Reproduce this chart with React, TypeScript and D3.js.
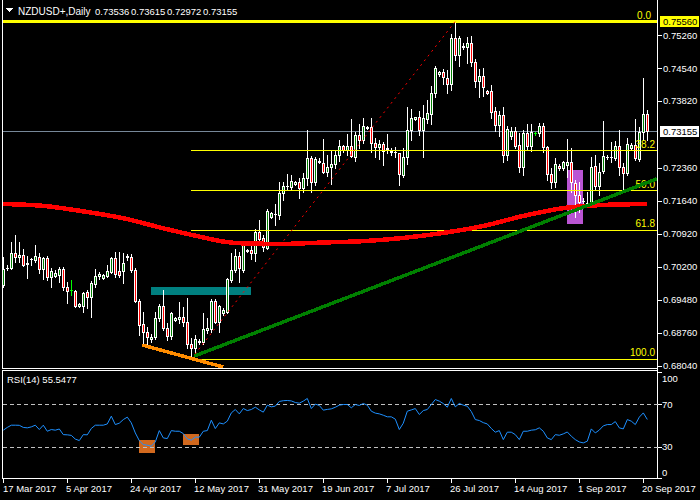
import React from 'react';
import * as d3 from 'd3';

// NZDUSD daily candles, one entry per bar (17 Mar 2017 .. 21 Sep 2017)
const opens = [
  0.6980, 0.7017, 0.7017, 0.7050, 0.7041, 0.7046, 0.7028, 0.7037, 0.7035, 0.7041,
  0.7015, 0.7039, 0.6998, 0.7000, 0.7002, 0.7015, 0.6976, 0.6969, 0.6967, 0.6934,
  0.6934, 0.6965, 0.6954, 0.6982, 0.7000, 0.6996, 0.7000, 0.7009, 0.7039, 0.7011,
  0.7011, 0.7041, 0.7041, 0.7013, 0.6945, 0.6895, 0.6878, 0.6862, 0.6867, 0.6908,
  0.6934, 0.6886, 0.6869, 0.6904, 0.6906, 0.6910, 0.6899, 0.6852, 0.6843, 0.6856,
  0.6856, 0.6882, 0.6884, 0.6945, 0.6899, 0.6919, 0.6921, 0.6991, 0.7013, 0.7044,
  0.7013, 0.7054, 0.7057, 0.7050, 0.7096, 0.7083, 0.7061, 0.7129, 0.7135, 0.7133,
  0.7181, 0.7196, 0.7194, 0.7201, 0.7205, 0.7192, 0.7214, 0.7258, 0.7205, 0.7249,
  0.7247, 0.7227, 0.7238, 0.7245, 0.7264, 0.7284, 0.7275, 0.7284, 0.7260, 0.7308,
  0.7297, 0.7323, 0.7325, 0.7290, 0.7282, 0.7288, 0.7277, 0.7271, 0.7270, 0.7269,
  0.7220, 0.7260, 0.7319, 0.7343, 0.7347, 0.7319, 0.7343, 0.7354, 0.7399, 0.7441,
  0.7445, 0.7432, 0.7419, 0.7520, 0.7482, 0.7500, 0.7500, 0.7509, 0.7467, 0.7426,
  0.7437, 0.7404, 0.7404, 0.7360, 0.7330, 0.7351, 0.7264, 0.7306, 0.7317, 0.7286,
  0.7238, 0.7312, 0.7284, 0.7312, 0.7312, 0.7327, 0.7282, 0.7223, 0.7205, 0.7240,
  0.7236, 0.7242, 0.7249, 0.7203, 0.7177, 0.7164, 0.7157, 0.7162, 0.7240, 0.7196,
  0.7229, 0.7259, 0.7259, 0.7258, 0.7284, 0.7238, 0.7225, 0.7280, 0.7286, 0.7255,
  0.7314, 0.73536,
];
const highs = [
  0.7042, 0.7024, 0.7074, 0.7089, 0.7074, 0.7059, 0.7044, 0.7039, 0.7068, 0.7050,
  0.7041, 0.7044, 0.7017, 0.7013, 0.7020, 0.7020, 0.6987, 0.6991, 0.6969, 0.6941,
  0.6965, 0.6969, 0.6989, 0.7015, 0.7009, 0.7004, 0.7024, 0.7041, 0.7052, 0.7052,
  0.7050, 0.7048, 0.7048, 0.7017, 0.6950, 0.6921, 0.6889, 0.6873, 0.6921, 0.6939,
  0.6969, 0.6897, 0.6921, 0.6910, 0.6943, 0.6932, 0.6952, 0.6864, 0.6871, 0.6862,
  0.6919, 0.6908, 0.6950, 0.6950, 0.6937, 0.6930, 0.6996, 0.7050, 0.7059, 0.7052,
  0.7076, 0.7059, 0.7072, 0.7102, 0.7122, 0.7089, 0.7146, 0.7140, 0.7157, 0.7205,
  0.7205, 0.7223, 0.7220, 0.7207, 0.7214, 0.7225, 0.7319, 0.7262, 0.7260, 0.7257,
  0.7299, 0.7264, 0.7275, 0.7273, 0.7297, 0.7286, 0.7310, 0.7343, 0.7314, 0.7332,
  0.7345, 0.7327, 0.7345, 0.7301, 0.7297, 0.7293, 0.7310, 0.7280, 0.7282, 0.7269,
  0.7280, 0.7369, 0.7364, 0.7347, 0.7360, 0.7373, 0.7384, 0.7415, 0.7459, 0.7448,
  0.7452, 0.7450, 0.7528, 0.7556, 0.7524, 0.7509, 0.7522, 0.7524, 0.7474, 0.7452,
  0.7454, 0.7405, 0.7417, 0.7369, 0.7360, 0.7369, 0.7327, 0.7325, 0.7325, 0.7312,
  0.7319, 0.7332, 0.7332, 0.7314, 0.7334, 0.7334, 0.7284, 0.7236, 0.7257, 0.7245,
  0.7251, 0.7299, 0.7280, 0.7210, 0.7205, 0.7170, 0.7183, 0.7260, 0.7264, 0.7247,
  0.7338, 0.7264, 0.7293, 0.7295, 0.7319, 0.7247, 0.7301, 0.7290, 0.7343, 0.7325,
  0.7432, 0.73615,
];
const lows = [
  0.6976, 0.7013, 0.7015, 0.7030, 0.7030, 0.7022, 0.6996, 0.7024, 0.7030, 0.7006,
  0.6993, 0.6991, 0.6976, 0.6998, 0.6987, 0.6969, 0.6941, 0.6958, 0.6932, 0.6932,
  0.6921, 0.6930, 0.6910, 0.6976, 0.6993, 0.6993, 0.6998, 0.7006, 0.6998, 0.6998,
  0.6985, 0.7035, 0.7009, 0.6943, 0.6871, 0.6854, 0.6852, 0.6856, 0.6862, 0.6902,
  0.6882, 0.6860, 0.6862, 0.6902, 0.6897, 0.6891, 0.6843, 0.6819, 0.6827, 0.6852,
  0.6852, 0.6875, 0.6878, 0.6897, 0.6878, 0.6915, 0.6919, 0.6987, 0.7009, 0.6987,
  0.7009, 0.7052, 0.7037, 0.7033, 0.7072, 0.7054, 0.7059, 0.7126, 0.7111, 0.7124,
  0.7166, 0.7190, 0.7188, 0.7198, 0.7170, 0.7183, 0.7198, 0.7183, 0.7198, 0.7247,
  0.7225, 0.7218, 0.7201, 0.7236, 0.7251, 0.7271, 0.7264, 0.7260, 0.7251, 0.7280,
  0.7290, 0.7321, 0.7271, 0.7260, 0.7255, 0.7242, 0.7269, 0.7264, 0.7260, 0.7198,
  0.7216, 0.7245, 0.7297, 0.7341, 0.7308, 0.7260, 0.7334, 0.7332, 0.7391, 0.7437,
  0.7419, 0.7399, 0.7406, 0.7471, 0.7459, 0.7496, 0.7465, 0.7459, 0.7413, 0.7391,
  0.7393, 0.7398, 0.7345, 0.7317, 0.7306, 0.7249, 0.7253, 0.7299, 0.7280, 0.7227,
  0.7220, 0.7277, 0.7273, 0.7308, 0.7306, 0.7271, 0.7210, 0.7192, 0.7194, 0.7231,
  0.7231, 0.7216, 0.7183, 0.7129, 0.7140, 0.7155, 0.7151, 0.7155, 0.7188, 0.7177,
  0.7225, 0.7255, 0.7249, 0.7253, 0.7220, 0.7188, 0.7220, 0.7275, 0.7253, 0.7251,
  0.7297, 0.72972,
];
const closes = [
  0.7015, 0.7018, 0.7050, 0.7041, 0.7046, 0.7024, 0.7026, 0.7036, 0.7044, 0.7015,
  0.7039, 0.6998, 0.7011, 0.7006, 0.7015, 0.6976, 0.6967, 0.6969, 0.6934, 0.6939,
  0.6963, 0.6954, 0.6985, 0.7000, 0.7004, 0.7002, 0.7011, 0.7039, 0.7004, 0.7002,
  0.7028, 0.7044, 0.7013, 0.6945, 0.6893, 0.6878, 0.6867, 0.6866, 0.6908, 0.6934,
  0.6886, 0.6869, 0.6919, 0.6908, 0.6910, 0.6899, 0.6852, 0.6843, 0.6862, 0.6857,
  0.6884, 0.6886, 0.6945, 0.6899, 0.6934, 0.6926, 0.6993, 0.7013, 0.7044, 0.7017,
  0.7072, 0.7056, 0.7050, 0.7096, 0.7081, 0.7063, 0.7142, 0.7137, 0.7136, 0.7181,
  0.7196, 0.7197, 0.7207, 0.7205, 0.7192, 0.7214, 0.7258, 0.7205, 0.7255, 0.7250,
  0.7227, 0.7238, 0.7245, 0.7264, 0.7284, 0.7275, 0.7284, 0.7262, 0.7308, 0.7297,
  0.7327, 0.7326, 0.7290, 0.7282, 0.7288, 0.7273, 0.7279, 0.7273, 0.7271, 0.7223,
  0.7260, 0.7319, 0.7345, 0.7347, 0.7319, 0.7345, 0.7356, 0.7399, 0.7454, 0.7445,
  0.7435, 0.7419, 0.7520, 0.7482, 0.7520, 0.7501, 0.7509, 0.7467, 0.7426, 0.7437,
  0.7413, 0.7399, 0.7358, 0.7330, 0.7351, 0.7264, 0.7321, 0.7317, 0.7284, 0.7238,
  0.7312, 0.7284, 0.7314, 0.7312, 0.7327, 0.7282, 0.7223, 0.7205, 0.7245, 0.7236,
  0.7249, 0.7249, 0.7205, 0.7177, 0.7162, 0.7163, 0.7160, 0.7238, 0.7196, 0.7227,
  0.7262, 0.7260, 0.7260, 0.7284, 0.7238, 0.7225, 0.7288, 0.7286, 0.7258, 0.7314,
  0.7354, 0.73155,
];

// RSI(14), one value per bar
const rsiValues = [
  45.4, 48.0, 50.1, 50.1, 50.0, 48.0, 47.6, 48.5, 50.1, 46.0,
  50.1, 44.4, 46.0, 45.4, 46.5, 41.2, 41.0, 40.5, 37.0, 35.6,
  41.2, 41.0, 47.0, 50.1, 50.1, 50.1, 51.3, 58.6, 50.7, 52.0,
  55.4, 57.7, 52.3, 42.8, 35.5, 31.8, 31.2, 30.3, 34.3, 45.0,
  38.1, 37.5, 45.0, 44.4, 44.4, 42.2, 37.2, 36.0, 38.8, 38.8,
  44.4, 45.0, 54.8, 46.9, 52.3, 51.3, 53.9, 61.7, 64.9, 60.8,
  65.8, 63.9, 64.9, 67.1, 64.5, 62.4, 69.0, 67.4, 68.1, 72.5,
  73.2, 73.4, 73.0, 71.5, 70.9, 72.8, 75.3, 65.8, 70.0, 68.7,
  64.3, 65.0, 65.5, 67.0, 69.0, 69.6, 69.6, 66.5, 69.6, 68.7,
  70.6, 69.0, 63.3, 61.5, 60.8, 59.5, 58.0, 58.0, 55.8, 46.0,
  52.0, 63.3, 64.5, 65.8, 60.2, 63.9, 64.9, 69.6, 74.3, 72.8,
  70.5, 67.1, 75.3, 67.4, 70.6, 69.0, 68.0, 63.0, 55.4, 54.5,
  52.5, 51.3, 47.0, 43.5, 45.0, 36.5, 43.5, 43.5, 41.2, 36.5,
  44.4, 44.4, 45.4, 45.8, 47.6, 44.4, 38.1, 36.5, 41.2, 40.6,
  41.9, 43.7, 39.7, 36.5, 34.3, 33.4, 35.0, 46.6, 42.8, 45.5,
  49.5, 50.7, 50.7, 53.5, 47.6, 46.6, 55.4, 53.9, 50.7, 57.7,
  61.7, 55.5,
];

// moving average read at a few bars
const maBars = [0, 10, 20, 30, 40, 50, 55, 60, 70, 80, 90, 100, 110, 120, 130, 140, 150, 161];
const maValues = [0.7157, 0.7153, 0.7141, 0.7126, 0.7104, 0.7084, 0.7075, 0.7071, 0.7070, 0.7073,
  0.7076, 0.7083, 0.7094, 0.7109, 0.7131, 0.7148, 0.7155, 0.7157];

const dateLabels = ['17 Mar 2017', '5 Apr 2017', '24 Apr 2017', '12 May 2017', '31 May 2017',
  '19 Jun 2017', '7 Jul 2017', '26 Jul 2017', '14 Aug 2017', '1 Sep 2017', '20 Sep 2017'];
const priceTicks = [0.7526, 0.7454, 0.7382, 0.7236, 0.7164, 0.7092, 0.7020, 0.6948, 0.6876, 0.6804];
const rsiTicks = [100, 70, 30, 0];
const rsiLevels = [70, 30];
const titleValues = ['0.73536', '0.73615', '0.72972', '0.73155'];

// fibonacci retracement from swing low (bar 47) to swing high (bar 113)
const fibLow = 0.6819;
const fibHigh = 0.7556;
const fibStartBar = 47;
const fibLevels = [0, 38.2, 50, 61.8, 100];

const lastPrice = 0.73155;
const resistance = 0.7556;

const W = 700;
const H = 500;
const left = 2.5;
const right = 657.5;
const mainBottom = 368.5;
const rsiTop = 370.5;
const rsiBottom = 478.5;
const font = 'Liberation Sans, Arial, sans-serif';

const App: React.FC = () => {
  const x = d3.scaleLinear().domain([0, 161]).range([3.3, 647.3]);
  const y = d3.scaleLinear().domain([0.6804, 0.7556]).range([365.7, 21.3]);
  const ry = d3.scaleLinear().domain([0, 100]).range([478.3, 372.3]);

  const maLine = d3.line<number>()
    .x((d, i) => x(maBars[i]))
    .y((d) => y(d))
    .curve(d3.curveMonotoneX);

  const rsiLine = d3.line<number>()
    .x((d, i) => x(i))
    .y((d) => ry(d));

  const fibPrice = (lvl: number) => fibHigh - (fibHigh - fibLow) * lvl / 100;

  const candles = opens.map((o, i) => {
    const c = closes[i];
    const cx = Math.round(x(i));
    const yh = Math.round(y(highs[i]));
    const yl = Math.round(y(lows[i]));
    const yo = Math.round(y(o));
    const yc = Math.round(y(c));
    const top = Math.min(yo, yc);
    const bot = Math.max(yo, yc);
    if (o === c) {
      return (
        <g key={i} stroke="#00ff00">
          <line x1={cx + 0.5} x2={cx + 0.5} y1={yh} y2={yl + 1} />
          <line x1={cx - 1} x2={cx + 2} y1={top + 0.5} y2={top + 0.5} />
        </g>
      );
    }
    return (
      <g key={i}>
        <line x1={cx + 0.5} x2={cx + 0.5} y1={yh} y2={yl + 1} stroke="#fff" />
        {bot - top < 1 ? (
          <line x1={cx - 1} x2={cx + 2} y1={top + 0.5} y2={top + 0.5} stroke="#fff" />
        ) : (
          <rect x={cx - 0.5} y={top + 0.5} width={2} height={bot - top}
            fill={c > o ? '#008000' : '#ff0000'} stroke="#fff" />
        )}
      </g>
    );
  });

  return (
    <svg width={W} height={H} style={{ position: 'absolute', left: 0, top: 0, background: '#000' }}
      fontFamily={font} shapeRendering="crispEdges">
      <defs>
        <clipPath id="mainClip">
          <rect x={left} y={0} width={right - left} height={mainBottom} />
        </clipPath>
      </defs>
      <rect width={W} height={H} fill="#000" />

      <g clipPath="url(#mainClip)">
        {/* rectangles drawn as background */}
        <rect x={x(36.9)} y={y(0.6976)} width={x(61.9) - x(36.9)} height={y(0.6958) - y(0.6976)} fill="#008080" />
        <rect x={x(141)} y={y(0.7231)} width={x(144.85) - x(141)} height={y(0.7113) - y(0.7231)} fill="#ba55d3" />

        <line x1={left} x2={right} y1={y(lastPrice)} y2={y(lastPrice)} stroke="#778899" />

        {candles}

        {/* fibonacci levels */}
        {fibLevels.map((lvl) => (
          <g key={lvl}>
            <line x1={Math.round(x(fibStartBar))} x2={right} y1={Math.round(y(fibPrice(lvl))) + 0.5}
              y2={Math.round(y(fibPrice(lvl))) + 0.5} stroke="#ffff00" />
            <text x={lvl === 0 ? 651 : 655} y={y(fibPrice(lvl)) - 2.5} fill="#ffff00" fontSize={10}
              textAnchor="end">{lvl.toFixed(1)}</text>
          </g>
        ))}
        <line x1={left} x2={right} y1={y(resistance)} y2={y(resistance)} stroke="#ffff00" strokeWidth={3} />

        {/* fibo trend line (dotted) */}
        <line x1={x(fibStartBar)} y1={y(fibLow)} x2={x(113)} y2={y(fibHigh)} stroke="#ff0000"
          strokeDasharray="2,4" shapeRendering="auto" />

        {/* moving average */}
        <path d={maLine(maValues) || ''} fill="none" stroke="#ff0000" strokeWidth={4.5} />

        {/* trend lines */}
        <line x1={x(47.75)} y1={y(0.6825)} x2={x(163.4)} y2={y(0.7212)} stroke="#008000" strokeWidth={3.5} />
        <line x1={x(34.75)} y1={y(0.6849)} x2={x(55)} y2={y(0.6801)} stroke="#ff8c00" strokeWidth={3.5} />
      </g>

      {/* main panel frame */}
      <line x1={left} x2={left} y1={0} y2={mainBottom} stroke="#fff" />
      <line x1={right} x2={right} y1={0} y2={rsiBottom} stroke="#fff" />
      <line x1={left} x2={right} y1={mainBottom} y2={mainBottom} stroke="#fff" />

      {/* title */}
      <polygon points="6,8 13,8 9.5,12" fill="#fff" />
      <text x={18} y={15} fill="#fff" fontSize={10}>NZDUSD+,Daily</text>
      {titleValues.map((v, i) => (
        <text key={v} x={95 + i * 36} y={15} fill="#fff" fontSize={9.5}>{v}</text>
      ))}

      {/* price axis */}
      {priceTicks.map((p) => (
        <g key={p}>
          <line x1={right} x2={right + 4} y1={Math.round(y(p)) + 0.5} y2={Math.round(y(p)) + 0.5} stroke="#fff" />
          <text x={663} y={y(p) + 3.5} fill="#fff" fontSize={9.5}>{p.toFixed(5)}</text>
        </g>
      ))}
      <rect x={659.5} y={y(resistance) - 5.5} width={39} height={11} fill="#ffff00" />
      <text x={663} y={y(resistance) + 3.5} fill="#000" fontSize={9.5}>{resistance.toFixed(5)}</text>
      <rect x={659.5} y={y(lastPrice) - 5.5} width={39} height={11} fill="#fff" />
      <text x={663} y={y(lastPrice) + 3.5} fill="#000" fontSize={9.5}>{lastPrice.toFixed(5)}</text>

      {/* RSI panel */}
      <rect x={left} y={rsiTop} width={right - left} height={rsiBottom - rsiTop} fill="none" stroke="#fff" />
      <rect x={x(33.9)} y={ry(36.2)} width={x(37.9) - x(33.9)} height={ry(23.9) - ry(36.2)} fill="#d2691e" />
      <rect x={x(44.9)} y={ry(41.9)} width={x(48.9) - x(44.9)} height={ry(31.5) - ry(41.9)} fill="#d2691e" />
      {rsiLevels.map((v) => (
        <line key={v} x1={left} x2={right} y1={Math.round(ry(v)) + 0.5} y2={Math.round(ry(v)) + 0.5}
          stroke="#c0c0c0" strokeDasharray="4,3" />
      ))}
      <path d={rsiLine(rsiValues) || ''} fill="none" stroke="#1e90ff" strokeWidth={1} shapeRendering="auto" />
      <text x={7} y={383} fill="#fff" fontSize={9.5}>RSI(14) 55.5477</text>
      {rsiTicks.map((v) => {
        const ty = Math.min(Math.max(ry(v), 378), 472);
        return (
          <g key={v}>
            <line x1={right} x2={right + 4} y1={Math.round(ry(v)) + 0.5} y2={Math.round(ry(v)) + 0.5} stroke="#fff" />
            <text x={662} y={ty + 3.5} fill="#fff" fontSize={9.5}>{v}</text>
          </g>
        );
      })}

      {/* time axis */}
      {dateLabels.map((d, k) => {
        const tx = Math.round(x(k * 16)) + 0.5;
        return (
          <g key={d}>
            <line x1={tx} x2={tx} y1={rsiBottom} y2={rsiBottom + 4} stroke="#fff" />
            <text x={k === 0 ? 3 : tx - 1.5} y={492} fill="#fff" fontSize={9.5}>{d}</text>
          </g>
        );
      })}
    </svg>
  );
};

export default App;
